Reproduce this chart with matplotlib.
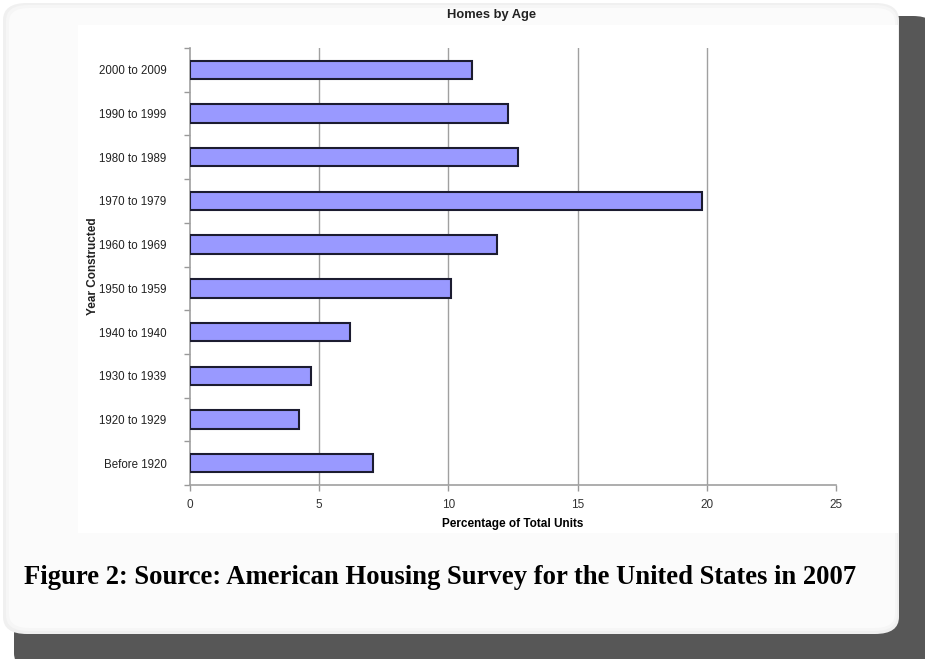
import matplotlib
matplotlib.use("Agg")
from matplotlib import pyplot as plt
from matplotlib.patches import FancyBboxPatch, Rectangle

# Datos del grafico
categorias = ["Before 1920", "1920 to 1929", "1930 to 1939", "1940 to 1940",
              "1950 to 1959", "1960 to 1969", "1970 to 1979", "1980 to 1989",
              "1990 to 1999", "2000 to 2009"]
porcentajes = [7.1, 4.2, 4.7, 6.2, 10.1, 11.9, 19.8, 12.7, 12.3, 10.9]
x_ticks = [0, 5, 10, 15, 20, 25]

W, H = 925, 659
fig = plt.figure(figsize=(W / 100, H / 100), dpi=100)
fig.patch.set_facecolor("white")


def caja(x0, y0, x1, y1, color, alpha=1.0, pad=0, z=0):
    # rectangulo en pixeles (origen arriba a la izquierda)
    p = FancyBboxPatch((x0 / W, 1 - y1 / H), (x1 - x0) / W, (y1 - y0) / H,
                       boxstyle=f"round,pad=0,rounding_size={pad / W}",
                       transform=fig.transFigure, facecolor=color,
                       edgecolor="none", alpha=alpha, zorder=z)
    fig.add_artist(p)


# Sombra difusa
for i, a in enumerate([0.2, 0.3, 0.45, 0.65, 1.0]):
    d = 10 - 2 * i
    caja(12 + d, 14 + d, 925 + 10, 659 + 10, "#575757", alpha=a, pad=22, z=0)

# Tarjeta con borde suave y zona blanca
caja(3, 3, 899, 634, "#f0f0f0", pad=24, z=1)
caja(6, 5, 897, 631, "#f6f6f6", pad=22, z=1)
caja(9, 8, 895, 628, "#fbfbfb", pad=20, z=1)
fig.add_artist(Rectangle((78 / W, 1 - 533 / H), (898 - 78) / W, (533 - 25) / H,
                         transform=fig.transFigure, facecolor="white",
                         edgecolor="none", zorder=1))

ax = fig.add_axes([190 / W, 1 - 485 / H, (836 - 190) / W, (485 - 48) / H])
ax.set_zorder(2)
ax.patch.set_alpha(0)

pos = list(range(len(categorias)))
ax.barh(pos, porcentajes, height=0.42, color="#9999ff", edgecolor="#1c1c30",
        linewidth=1.5, zorder=3)

ax.set_xlim(0, 25)
ax.set_ylim(-0.5, len(categorias) - 0.5)
ax.set_xticks(x_ticks)
ax.set_xticklabels([str(t) for t in x_ticks], fontsize=8.5, color="#333333",
                   family="Liberation Sans")
ax.set_yticks(pos)
ax.set_yticklabels(categorias, fontsize=8.3, color="#222222",
                   family="Liberation Sans")
ax.set_yticks([p - 0.5 for p in pos] + [len(pos) - 0.5], minor=True)
ax.tick_params(axis="y", which="major", length=0, pad=17)
ax.tick_params(axis="y", which="minor", length=4, color="#999999", width=1)
ax.tick_params(axis="x", which="major", length=4, color="#999999", width=1, pad=6)

for g in x_ticks[1:-1]:
    ax.axvline(g, color="#a0a0a0", linewidth=1, zorder=1)

for s in ["top", "right"]:
    ax.spines[s].set_visible(False)
for s in ["left", "bottom"]:
    ax.spines[s].set_color("#a0a0a0")
    ax.spines[s].set_linewidth(1.2)

ax.set_xlabel("Percentage of Total Units", fontsize=8.5, fontweight="bold",
              family="Liberation Sans", labelpad=5)
fig.text(93 / W, 1 - 266 / H, "Year Constructed", fontsize=8.5,
         fontweight="bold", family="Liberation Sans", rotation=90,
         ha="center", va="center", color="#222222", zorder=5)

fig.text(492 / W, 1 - 15 / H, "Homes by Age", fontsize=9.3, fontweight="bold",
         family="Liberation Sans", ha="center", va="center", color="#222222",
         zorder=5)
fig.text(24 / W, 1 - 578 / H,
         "Figure 2: Source: American Housing Survey for the United States in 2007",
         fontsize=19.2, fontweight="bold", family="Liberation Serif",
         ha="left", va="center", color="black", zorder=5)

plt.savefig("out.png", dpi=100)
plt.close(fig)
